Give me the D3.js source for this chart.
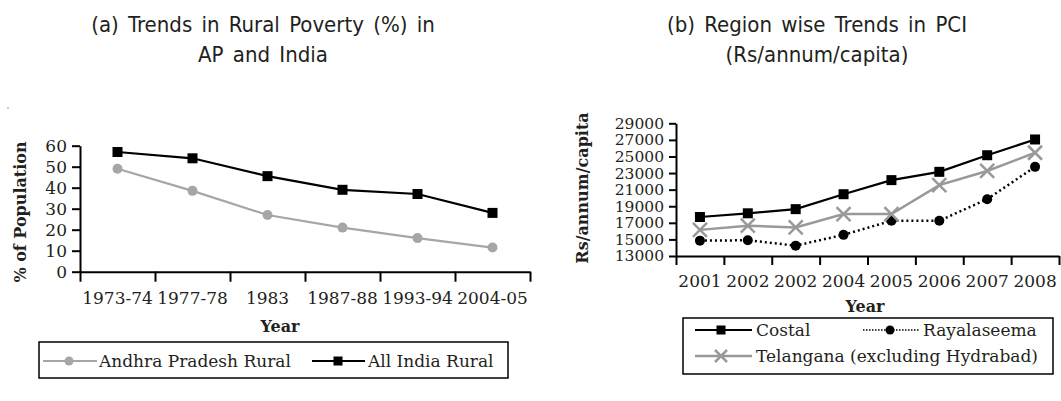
<!DOCTYPE html>
<html>
<head>
<meta charset="utf-8">
<script src="https://cdn.jsdelivr.net/npm/d3@7"></script>
<style>
  body { margin: 0; background: #fff; }
  svg text { fill: #231f20; }
  .title { font-family: "DejaVu Sans Condensed", "DejaVu Sans", sans-serif; font-size: 22px; word-spacing: 3px; }
  .tick text, .lbl { font-family: "DejaVu Serif", serif; font-size: 17px; }
  .ytick-b .tick text { font-size: 15.5px; }
  .axis-title { font-family: "DejaVu Serif", serif; font-size: 16px; font-weight: bold; }
</style>
</head>
<body>
<svg id="chart" width="1061" height="401"></svg>
<script>
// (a) rural poverty, % of population
const povertyYears = ["1973-74", "1977-78", "1983", "1987-88", "1993-94", "2004-05"];
const apRural = [49, 38.5, 27, 21, 16, 11.5];
const indiaRural = [57, 54, 45.5, 39, 37, 28];
const povertyTicks = [0, 10, 20, 30, 40, 50, 60];

// (b) per capita income by region, Rs/annum/capita
const pciYears = ["2001", "2002", "2002", "2004", "2005", "2006", "2007", "2008"];
const costal = [17700, 18150, 18650, 20450, 22150, 23150, 25150, 27050];
const rayalaseema = [14850, 14900, 14250, 15550, 17250, 17250, 19850, 23750];
const telangana = [16150, 16650, 16450, 18050, 18050, 21550, 23250, 25450];
const pciTicks = [13000, 15000, 17000, 19000, 21000, 23000, 25000, 27000, 29000];

const svg = d3.select("#chart");
const black = "#000", gray = "#a6a6a6";

// marker helpers
function square(g, x, y, s) {
    g.append("rect").attr("x", x - s / 2).attr("y", y - s / 2)
        .attr("width", s).attr("height", s).attr("fill", black);
}
function dot(g, x, y, r, color) {
    g.append("circle").attr("cx", x).attr("cy", y).attr("r", r).attr("fill", color);
}
function cross(g, x, y, h, color) {
    g.append("path")
        .attr("d", `M${x - h},${y - h}L${x + h},${y + h}M${x - h},${y + h}L${x + h},${y - h}`)
        .attr("stroke", color).attr("stroke-width", 2.5).attr("fill", "none");
}

function drawAxes(g, labels, x, y, yTicks, x0, x1, xTickLen, yTickLen, yClass) {
    const n = labels.length;
    // band boundary ticks
    const edge = d3.scaleLinear().domain([0, n]).range([x0, x1]);
    g.append("g")
        .attr("transform", `translate(0,${y.range()[0]})`)
        .call(d3.axisBottom(edge).tickValues(d3.range(n + 1)).tickFormat("")
            .tickSize(xTickLen).tickSizeOuter(0))
        .call(a => a.selectAll("path,line").attr("stroke", black).attr("stroke-width", 2));
    // category labels
    g.append("g")
        .attr("transform", `translate(0,${y.range()[0]})`)
        .call(d3.axisBottom(x).tickFormat(i => labels[i]).tickSize(0).tickPadding(xTickLen + 10))
        .call(a => a.select(".domain").remove());
    g.append("g")
        .attr("class", yClass)
        .attr("transform", `translate(${x0},0)`)
        .call(d3.axisLeft(y).tickValues(yTicks).tickFormat(d3.format("d"))
            .tickSize(yTickLen).tickSizeOuter(0).tickPadding(5))
        .call(a => a.selectAll("path,line").attr("stroke", black).attr("stroke-width", 2));
    g.selectAll(".tick text").attr("fill", "#231f20");
}

// ---------- chart (a)
{
    const g = svg.append("g");
    const x0 = 80, x1 = 530;
    const x = d3.scaleBand().domain(d3.range(povertyYears.length)).range([x0, x1]);
    const y = d3.scaleLinear().domain([0, 60]).range([271.7, 145.7]);
    drawAxes(g, povertyYears, x, y, povertyTicks, x0, x1, 10, 8, "ytick-a");

    const cx = i => x(i) + x.bandwidth() / 2;
    const line = d3.line().x((d, i) => cx(i)).y(d => y(d));
    g.append("path").datum(apRural).attr("d", line)
        .attr("fill", "none").attr("stroke", gray).attr("stroke-width", 2.2);
    g.append("path").datum(indiaRural).attr("d", line)
        .attr("fill", "none").attr("stroke", black).attr("stroke-width", 2.2);
    apRural.forEach((d, i) => dot(g, cx(i), y(d), 5, gray));
    indiaRural.forEach((d, i) => square(g, cx(i), y(d), 10));

    g.append("text").attr("class", "title").attr("x", 263).attr("y", 32)
        .attr("text-anchor", "middle").text("(a) Trends in Rural Poverty (%) in");
    g.append("text").attr("class", "title").attr("x", 263).attr("y", 62)
        .attr("text-anchor", "middle").text("AP and India");
    g.append("text").attr("class", "axis-title").attr("x", 280).attr("y", 332)
        .attr("text-anchor", "middle").text("Year");
    g.append("text").attr("class", "axis-title")
        .attr("transform", "translate(26,212) rotate(-90)")
        .attr("text-anchor", "middle").text("% of Population");

    // stray mark in the source image
    g.append("circle").attr("cx", 8).attr("cy", 108).attr("r", 0.8).attr("fill", "#888");

    // legend
    const lg = g.append("g");
    lg.append("rect").attr("x", 39).attr("y", 342).attr("width", 469).attr("height", 36)
        .attr("fill", "none").attr("stroke", black).attr("stroke-width", 1.5);
    lg.append("line").attr("x1", 43).attr("x2", 97).attr("y1", 361).attr("y2", 361)
        .attr("stroke", gray).attr("stroke-width", 2.2);
    dot(lg, 69, 361, 4.5, gray);
    lg.append("text").attr("class", "lbl").attr("x", 99).attr("y", 367).text("Andhra Pradesh Rural");
    lg.append("line").attr("x1", 312).attr("x2", 365).attr("y1", 361).attr("y2", 361)
        .attr("stroke", black).attr("stroke-width", 2.2);
    square(lg, 338, 361, 9);
    lg.append("text").attr("class", "lbl").attr("x", 368).attr("y", 367).text("All India Rural");
}

// ---------- chart (b)
{
    const g = svg.append("g");
    const x0 = 676, x1 = 1059;
    const x = d3.scaleBand().domain(d3.range(pciYears.length)).range([x0, x1]);
    const y = d3.scaleLinear().domain([13000, 29000]).range([256, 123.3]);
    drawAxes(g, pciYears, x, y, pciTicks, x0, x1, 9, 7, "ytick-b");

    const cx = i => x(i) + x.bandwidth() / 2;
    const line = d3.line().x((d, i) => cx(i)).y(d => y(d));
    g.append("path").datum(rayalaseema).attr("d", line)
        .attr("fill", "none").attr("stroke", black).attr("stroke-width", 2.5)
        .attr("stroke-dasharray", "2,3");
    g.append("path").datum(telangana).attr("d", line)
        .attr("fill", "none").attr("stroke", "#999").attr("stroke-width", 2.5);
    g.append("path").datum(costal).attr("d", line)
        .attr("fill", "none").attr("stroke", black).attr("stroke-width", 2.2);
    rayalaseema.forEach((d, i) => dot(g, cx(i), y(d), 5, black));
    telangana.forEach((d, i) => cross(g, cx(i), y(d), 7, "#999"));
    costal.forEach((d, i) => square(g, cx(i), y(d), 10));

    g.append("text").attr("class", "title").attr("x", 817).attr("y", 32)
        .attr("text-anchor", "middle").text("(b) Region wise Trends in PCI");
    g.append("text").attr("class", "title").attr("x", 817).attr("y", 62)
        .attr("text-anchor", "middle").text("(Rs/annum/capita)");
    g.append("text").attr("class", "axis-title").attr("x", 865).attr("y", 312)
        .attr("text-anchor", "middle").text("Year");
    g.append("text").attr("class", "axis-title")
        .attr("transform", "translate(588,188) rotate(-90)")
        .attr("text-anchor", "middle").text("Rs/annum/capita");

    // legend
    const lg = g.append("g");
    lg.append("rect").attr("x", 683).attr("y", 318).attr("width", 370).attr("height", 56)
        .attr("fill", "none").attr("stroke", black).attr("stroke-width", 1.5);
    lg.append("line").attr("x1", 695).attr("x2", 752).attr("y1", 330).attr("y2", 330)
        .attr("stroke", black).attr("stroke-width", 2.2);
    square(lg, 721, 330, 9);
    lg.append("text").attr("class", "lbl").attr("x", 756).attr("y", 336).text("Costal");
    lg.append("line").attr("x1", 863).attr("x2", 920).attr("y1", 330).attr("y2", 330)
        .attr("stroke", black).attr("stroke-width", 1.5).attr("stroke-dasharray", "1.5,1.5");
    dot(lg, 890, 330, 4.5, black);
    lg.append("text").attr("class", "lbl").attr("x", 923).attr("y", 336).text("Rayalaseema");
    lg.append("line").attr("x1", 695).attr("x2", 752).attr("y1", 356).attr("y2", 356)
        .attr("stroke", "#999").attr("stroke-width", 2.5);
    cross(lg, 721, 356, 6, "#999");
    lg.append("text").attr("class", "lbl").attr("x", 756).attr("y", 362).text("Telangana (excluding Hydrabad)");
}
</script>
</body>
</html>
